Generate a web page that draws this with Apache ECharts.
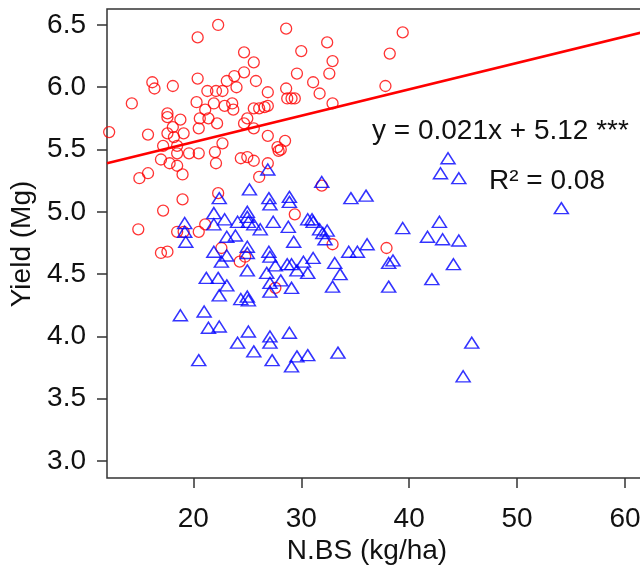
<!DOCTYPE html>
<html>
<head>
<meta charset="utf-8">
<script src="https://cdn.jsdelivr.net/npm/echarts@6/dist/echarts.min.js"></script>
<style>
html,body{margin:0;padding:0;background:#fff;}
#chart{width:640px;height:571px;}
</style>
</head>
<body>
<div id="chart"></div>
<script>
// ---- data ----
const redX = [22.3,20.4,28.6,39.4,24.7,30.0,32.4,32.9,38.2,25.6,20.4,24.7,29.6,32.6,16.2,16.4,18.1,23.1,23.8,24.0,25.8,21.3,22.1,22.7,26.9,28.6,31.1,31.7,37.8,28.7,29.1,29.4,32.9,28.5,28.1,14.3,20.3,21.9,22.9,23.6,23.7,21.1,17.6,17.6,18.8,20.6,21.4,22.2,20.5,18.1,17.6,19.1,15.8,18.2,25.0,25.6,26.1,26.6,26.9,24.7,25.6,22.7,22.0,22.1,20.5,19.6,18.5,17.2,18.5,17.0,17.8,18.5,19.0,15.8,15.0,24.4,25.0,25.6,26.9,26.1,26.9,27.8,27.9,12.2,19.0,17.2,22.3,14.9,17.0,17.6,22.6,18.5,19.1,20.5,21.1,29.4,24.3,24.8,27.6,31.9,32.9,37.9];
const redY = [6.50,6.40,6.47,6.44,6.28,6.29,6.36,6.21,6.27,6.20,6.07,6.12,6.11,6.11,6.04,5.99,6.01,6.05,6.09,6.00,6.05,5.97,5.97,5.97,5.96,5.99,6.04,5.95,6.01,5.91,5.91,5.91,5.87,5.57,5.50,5.87,5.88,5.87,5.85,5.87,5.82,5.82,5.79,5.76,5.74,5.75,5.75,5.71,5.67,5.68,5.63,5.63,5.62,5.60,5.75,5.83,5.83,5.84,5.85,5.71,5.67,5.55,5.48,5.39,5.47,5.47,5.53,5.53,5.47,5.42,5.39,5.37,5.30,5.31,5.27,5.43,5.44,5.41,5.39,5.28,5.61,5.52,5.49,5.64,5.10,5.01,5.15,4.86,4.67,4.68,4.71,4.84,4.84,4.84,4.90,4.98,4.60,4.64,4.39,5.21,4.74,4.71];
const blueX = [26.9,25.2,22.4,27.0,27.1,28.9,28.9,21.9,22.9,21.9,19.2,19.2,19.3,24.1,25.0,25.0,25.1,25.6,26.2,27.4,28.8,29.3,23.1,23.9,25.0,25.0,21.9,23.1,22.6,25.0,27.0,27.1,26.8,27.6,28.7,29.1,29.6,21.2,22.3,23.1,22.4,24.4,25.0,25.1,27.1,27.1,28.1,29.1,18.8,21.0,21.4,22.4,25.1,24.1,25.6,27.1,27.1,28.9,27.3,29.1,29.6,30.6,20.5,33.4,43.6,42.9,44.6,31.9,34.6,36.0,30.6,31.0,31.1,31.7,32.4,32.2,39.4,42.8,41.7,43.1,44.6,34.4,35.2,36.1,38.1,38.5,30.2,31.1,30.6,33.1,33.6,32.9,38.1,42.1,44.1,45.8,45.0,54.1,32.0];
const blueY = [5.34,5.18,5.11,5.11,5.06,5.12,5.08,4.99,4.94,4.90,4.91,4.84,4.76,4.92,5.00,4.96,4.92,4.90,4.86,4.92,4.88,4.76,4.80,4.81,4.72,4.67,4.68,4.65,4.60,4.53,4.68,4.64,4.51,4.57,4.58,4.58,4.53,4.47,4.47,4.41,4.33,4.30,4.32,4.29,4.43,4.36,4.45,4.39,4.17,4.20,4.07,4.08,4.04,3.95,3.88,4.00,3.95,4.03,3.81,3.76,3.84,3.85,3.81,3.87,5.43,5.31,5.27,5.24,5.11,5.13,4.94,4.94,4.92,4.86,4.85,4.78,4.87,4.92,4.80,4.78,4.77,4.68,4.68,4.74,4.59,4.61,4.60,4.63,4.51,4.59,4.50,4.40,4.40,4.46,4.58,3.95,3.68,5.03,4.83];
// fitted line end points
const fitX = [12, 62.5];
const fitY = [5.39, 6.46];
const xTickValues = [20, 30, 40, 50, 60];
const yTickValues = [3.0, 3.5, 4.0, 4.5, 5.0, 5.5, 6.0, 6.5];
const xTitle = 'N.BS (kg/ha)';
const yTitle = 'Yield (Mg)';
const eqText = 'y = 0.021x + 5.12 ***';
const r2Text = 'R\u00B2 = 0.08';

const zip = (a, b) => a.map((v, i) => [v, b[i]]);
const FONT = '"Liberation Sans", Arial, sans-serif';
const AX = '#333';
const FS = 28;
const txt = (x, y, text, align, rot) => ({
  type: 'text', x: x, y: y, rotation: rot || 0,
  style: {text: text, fill: '#111', font: FS + 'px ' + FONT,
    textAlign: align, textVerticalAlign: 'middle', align: align, verticalAlign: 'middle'}
});

const chart = echarts.init(document.getElementById('chart'), null, {renderer: 'canvas'});
chart.setOption({
  backgroundColor: '#fff',
  animation: false,
  grid: {left: 107, top: 9, bottom: 93, right: -12, containLabel: false, outerBoundsMode: 'none',
    show: true, borderColor: AX, borderWidth: 1.5, backgroundColor: 'transparent'},
  xAxis: {
    type: 'value', min: 12, max: 62.5,
    axisLine: {show: false},
    splitLine: {show: false},
    axisTick: {show: true, inside: false, length: 10, lineStyle: {color: AX, width: 1.5}, customValues: xTickValues},
    axisLabel: {color: '#111', fontSize: FS, fontFamily: FONT, margin: 27, customValues: xTickValues}
  },
  yAxis: {
    type: 'value', min: 2.864, max: 6.628,
    axisLine: {show: false},
    splitLine: {show: false},
    axisTick: {show: true, inside: false, length: 10, lineStyle: {color: AX, width: 1.5}, customValues: yTickValues},
    axisLabel: {color: '#111', fontSize: FS, fontFamily: FONT, margin: 21, customValues: yTickValues,
      formatter: v => Number(v).toFixed(1)}
  },
  series: [
    {
      type: 'scatter', data: zip(redX, redY), symbol: 'circle', symbolSize: 11,
      itemStyle: {color: 'rgba(0,0,0,0)', borderColor: '#ff0000', borderWidth: 1.3}
    },
    {
      type: 'scatter', data: zip(blueX, blueY), symbol: 'triangle', symbolSize: [14, 11],
      itemStyle: {color: 'rgba(0,0,0,0)', borderColor: '#0000ff', borderWidth: 1.5}
    },
    {
      type: 'line', data: zip(fitX, fitY), symbol: 'none',
      lineStyle: {color: '#ff0000', width: 2.5}, z: 5
    }
  ],
  graphic: [
    txt(367, 551, xTitle, 'center'),
    txt(22, 244, yTitle, 'center', Math.PI / 2),
    txt(372, 131, eqText, 'left'),
    txt(489, 181, r2Text, 'left')
  ]
});
</script>
</body>
</html>
